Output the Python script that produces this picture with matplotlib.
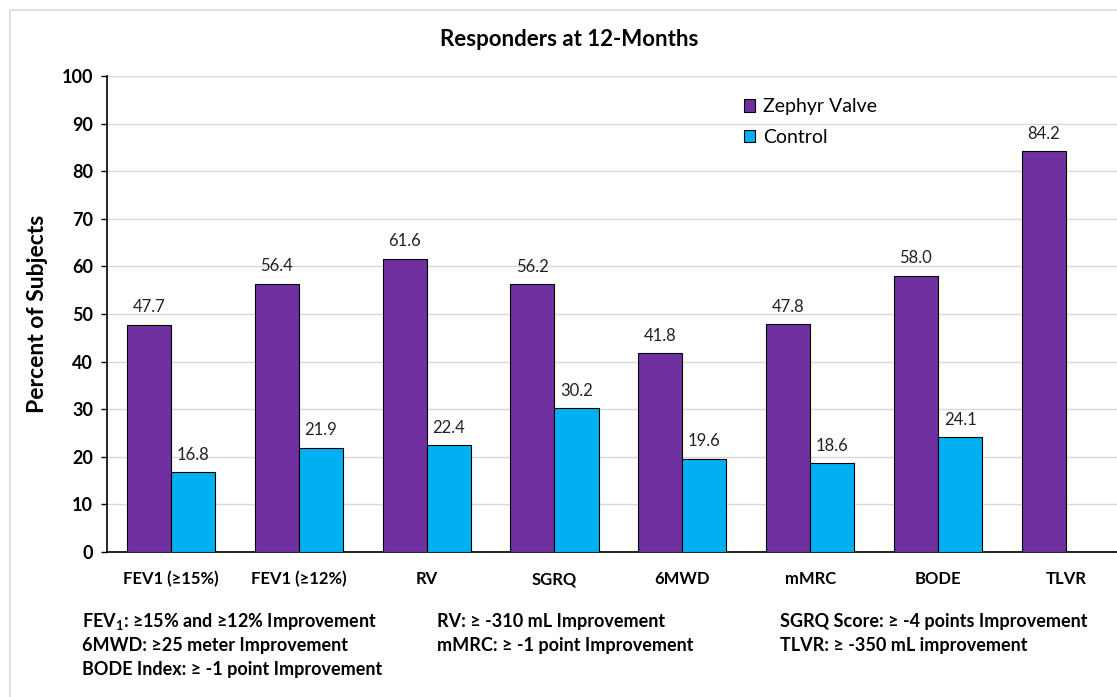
import matplotlib
matplotlib.use("Agg")
import matplotlib.pyplot as plt
import numpy as np
from matplotlib.patches import Rectangle

categories = ["FEV1 (≥15%)", "FEV1 (≥12%)", "RV", "SGRQ", "6MWD", "mMRC", "BODE", "TLVR"]
zephyr = [47.7, 56.4, 61.6, 56.2, 41.8, 47.8, 58.0, 84.2]
control = [16.8, 21.9, 22.4, 30.2, 19.6, 18.6, 24.1, None]
yticks = list(range(0, 101, 10))
footnotes = [
    ["FEV$_1$: ≥15% and ≥12% Improvement", "6MWD: ≥25 meter Improvement", "BODE Index: ≥ -1 point Improvement"],
    ["RV: ≥ -310 mL Improvement", "mMRC: ≥ -1 point Improvement"],
    ["SGRQ Score: ≥ -4 points Improvement", "TLVR: ≥ -350 mL improvement"],
]

plt.rcParams['font.family'] = ['Lato', 'DejaVu Sans']
plt.rcParams['mathtext.fontset'] = 'custom'
plt.rcParams['mathtext.rm'] = 'Lato:bold'
plt.rcParams['mathtext.it'] = 'Lato:bold'
plt.rcParams['mathtext.bf'] = 'Lato:bold'

W, H = 1117, 697
fig = plt.figure(figsize=(W/100, H/100), dpi=100)
fig.patches.append(Rectangle((10/W, -0.1), 1.2, 1 - 10/H + 0.1, transform=fig.transFigure,
                             fill=False, edgecolor='#d9d9d9', linewidth=1.2))

ax = fig.add_axes([107/W, 1 - 552/H, 1 - 107/W, (552 - 76)/H])
x = np.arange(len(categories))
bw = 0.345
purple = '#7030A0'
cyan = '#00B0F0'
ax.bar(x - bw/2, zephyr, bw, color=purple, edgecolor='black', linewidth=0.8, label='Zephyr Valve', zorder=3)
cx = [xi + bw/2 for xi, c in zip(x, control) if c is not None]
cv = [c for c in control if c is not None]
ax.bar(cx, cv, bw, color=cyan, edgecolor='black', linewidth=0.8, label='Control', zorder=3)

for xi, v in zip(x - bw/2, zephyr):
    ax.text(xi, v + 2.0, f"{v:.1f}", ha='center', va='bottom', fontsize=12, color='#222222')
for xi, v in zip(cx, cv):
    ax.text(xi, v + 2.0, f"{v:.1f}", ha='center', va='bottom', fontsize=12, color='#222222')

ax.set_xlim(-0.5, 7.4)
ax.set_ylim(0, 100)
ax.set_yticks(yticks)
ax.set_yticklabels([str(t) for t in yticks], fontsize=13, fontweight='bold')
ax.set_xticks(x)
ax.set_xticklabels(categories, fontsize=12, fontweight='bold')
ax.tick_params(axis='x', length=0, pad=14)
ax.tick_params(axis='y', length=4, width=1, pad=6)
ax.yaxis.grid(True, color='#d9d9d9', linewidth=1, zorder=0)
ax.set_axisbelow(True)
for s in ['top', 'right']:
    ax.spines[s].set_visible(False)
ax.spines['left'].set_linewidth(1.2)
ax.spines['bottom'].set_linewidth(1.2)
ax.set_ylabel("Percent of Subjects", fontsize=16.5, fontweight='bold', labelpad=10)

ax.legend(loc='upper left', bbox_to_anchor=(0.613, 0.99), frameon=False, fontsize=14,
          handlelength=0.6, handleheight=0.6, handletextpad=0.4, labelspacing=0.7)

fig.text(569/W, 1 - 40/H, "Responders at 12-Months", ha='center', va='center', fontsize=16, fontweight='bold')

col_x = [82, 437, 780]
row_y = [622, 646, 669]
for cx_, col in zip(col_x, footnotes):
    for ry, t in zip(row_y, col):
        fig.text(cx_/W, 1 - ry/H, t, ha='left', va='center', fontsize=13, fontweight='bold')

fig.savefig("out.png", dpi=100)
